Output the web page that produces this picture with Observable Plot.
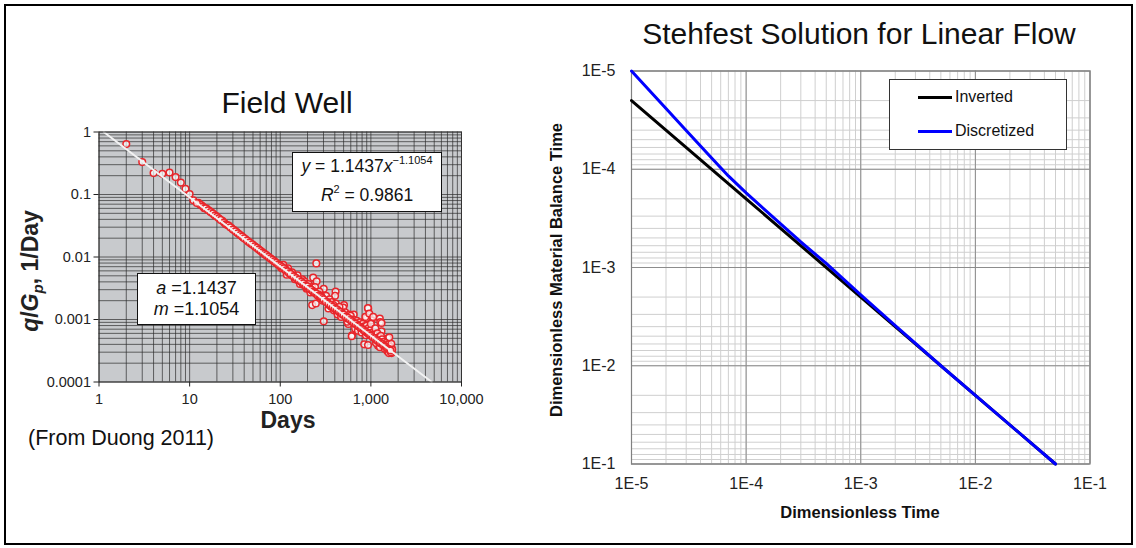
<!DOCTYPE html>
<html>
<head>
<meta charset="utf-8">
<script src="https://cdn.jsdelivr.net/npm/d3@7"></script>
<script src="https://cdn.jsdelivr.net/npm/@observablehq/plot@0.6"></script>
<style>
  body { margin: 0; background: #fff; }
  #wrap { position: relative; width: 1136px; height: 548px; overflow: hidden;
          font-family: "Liberation Sans", Arial, sans-serif; color: #111; }
  .abs { position: absolute; white-space: nowrap; }
  .c { transform: translate(-50%, -50%); }
  svg { position: absolute; top: 0; }
</style>
</head>
<body>
<div id="wrap"></div>
<script>
// ---------------- Left chart: Field Well (Duong 2011) ----------------
const fieldTitle = "Field Well";
const fieldXTicks = [1, 10, 100, 1000, 10000];
const fieldXTickLabels = ["1", "10", "100", "1,000", "10,000"];
const fieldYTicks = [0.0001, 0.001, 0.01, 0.1, 1];
const fieldYTickLabels = ["0.0001", "0.001", "0.01", "0.1", "1"];

const earlyDays = [2, 3, 4, 5, 6, 7, 8, 9, 10, 11, 12];
const earlyRate = [0.64, 0.33, 0.22, 0.215, 0.225, 0.19, 0.155, 0.123, 0.102, 0.081, 0.073];

const bandDays = [13,14,14.5,15,16,17,18,19,20,21,22,24,25,26,27,28,30,32,34,36,38,40,43,46,49,52,55,58,61,64,67,70,74,78,82,86,90,95,100,105,110,115,120,125,130,140,150,160,170,180,190,200,210,220,230,240,250,260,270,280,290,300,320,340,360,380,400,420,440,460,480,500,530,560,590,620,650,680,710,740,770,800,830,860,890,920,950,980,1010,1050,1100,1150,1200,1250,1300,1350,1400,1450,1500,1550,1600,1650];
const bandRate = [0.0690,0.0640,0.0605,0.0600,0.0560,0.0525,0.0495,0.0462,0.0440,0.0415,0.0392,0.0356,0.0335,0.0325,0.0318,0.0300,0.0276,0.0258,0.0240,0.0224,0.0212,0.0200,0.0184,0.0170,0.0160,0.0149,0.0140,0.0132,0.0125,0.0118,0.0113,0.0107,0.0101,0.0095,0.0090,0.0085,0.0081,0.0076,0.0072,0.0069,0.0066,0.0061,0.0059,0.0055,0.0054,0.0049,0.0046,0.0043,0.0040,0.0038,0.0035,0.0034,0.0031,0.0030,0.0028,0.0027,0.0026,0.0024,0.0024,0.0023,0.0022,0.0021,0.0019,0.0018,0.0017,0.0016,0.0015,0.00146,0.00135,0.00131,0.00122,0.00120,0.00110,0.00106,0.00098,0.00094,0.00088,0.00085,0.00080,0.00078,0.00073,0.00071,0.00068,0.00065,0.00063,0.00060,0.00059,0.00056,0.00055,0.00052,0.00050,0.00047,0.00045,0.00043,0.00041,0.00040,0.00038,0.00037,0.00035,0.00034,0.00033,0.00032];

const bandPoints2 = [
  [12.5,0.0735],[13.5,0.0672],[15.5,0.0590],[16.5,0.0548],[17.5,0.0515],[18.5,0.0478],[19.5,0.0455],[23,0.0380],
  [29,0.0290],[31,0.0270],[33,0.0250],[35,0.0233],[37,0.0218],[39,0.0205],[41.5,0.0192],[44.5,0.0176],[47.5,0.0163],
  [50.5,0.0154],[53.5,0.0144],[56.5,0.0136],[59.5,0.0128],[62.5,0.0121],[65.5,0.0115],[68.5,0.0109],[72,0.0104],
  [76,0.0097],[80,0.0092],[84,0.0087],[88,0.0083],[92.5,0.0078],[97.5,0.0074],
  [104,0.0066],[114,0.0064],[124,0.0058],[133,0.0051],[143,0.0048],[153,0.0044],[163,0.0042],[173,0.0039],[183,0.0036],
  [193,0.0034],[203,0.0033],[213,0.0031],[223,0.0029],[235,0.0028],[245,0.0026],[255,0.0025],[265,0.0025],[275,0.0022],
  [285,0.0023],[295,0.0020],[310,0.0020],[330,0.0019],[345,0.0017],[365,0.0016],[385,0.0017],[395,0.0015],[415,0.0014],
  [435,0.0014],[455,0.0013],[475,0.0013],[490,0.0012],[515,0.00115],[545,0.00105],[575,0.00102],[605,0.00096],
  [635,0.00091],[665,0.00087],[695,0.00083],[725,0.00079],[755,0.00075]
];

const scatterPoints = [
  [102,0.0068],[108,0.0075],[112,0.0063],[118,0.0052],[122,0.0066],[128,0.0057],[135,0.0057],[138,0.0051],
  [145,0.0044],[148,0.0047],[155,0.0051],[158,0.0042],[165,0.0037],[168,0.0041],[175,0.0044],[178,0.0036],
  [185,0.0041],[188,0.0037],[195,0.0031],[198,0.0032],[205,0.0037],[215,0.0027],[225,0.0033],
  [250,0.0079],[231,0.0047],[252,0.0041],[302,0.0031],[242,0.0033],[270,0.0028],[408,0.0028],[403,0.0024],
  [225,0.0017],[247,0.0018],[302,0.00094],[505,0.0017],[495,0.00155],[935,0.0015],[927,0.00153],
  [1255,0.00104],[1270,0.00091],[920,0.00096],[1020,0.00097],[620,0.00056],[845,0.0004],[930,0.00039],
  [1200,0.00038],[1694,0.00035],[1694,0.00029],[725,0.00073],[565,0.00085],[1310,0.00065],[1540,0.0005],
  [1597,0.00052],[1313,0.00088],[646,0.0012],[456,0.00117],[860,0.00094],[898,0.00106],[614,0.00054],
  [320,0.0024],[340,0.0015],[350,0.0021],[370,0.0019],[390,0.0014],[410,0.0018],[430,0.0012],[450,0.0016],
  [470,0.0011],[520,0.0013],[550,0.00092],[580,0.0012],[600,0.00115],[640,0.00100],[670,0.00072],[700,0.00095],
  [720,0.00066],[760,0.00090],[790,0.00062],[810,0.00085],[850,0.00078],[870,0.00110],[880,0.00056],[900,0.00080],
  [940,0.00072],[960,0.00125],[990,0.00068],[1000,0.00085],[1030,0.00062],[1060,0.00110],[1080,0.00058],[1120,0.00072],
  [1140,0.00042],[1180,0.00060],[1220,0.00052],[1260,0.00036],[1290,0.00055],[1330,0.00048],[1380,0.00044],[1420,0.00034],
  [1460,0.00042],[1520,0.00031],[1560,0.00040],[1580,0.00029],[1620,0.00037],[1660,0.00030],[1680,0.00041],[1720,0.00033]
];

// power-law fit shown on the chart: y = a x^-m, drawn between its two ends
const fitA = 1.1437, fitM = 1.1054, fitR2 = 0.9861;
const trendDays = [1.129, 4700];
const trendRate = [1.0, 0.0001];

// ---------------- Right chart: Stehfest solution ----------------
const stehTitle = "Stehfest Solution for Linear Flow";
const stehTicks = [1e-5, 1e-4, 1e-3, 1e-2, 1e-1];
const stehTickLabels = ["1E-5", "1E-4", "1E-3", "1E-2", "1E-1"];
const seriesNames = ["Inverted", "Discretized"];
const seriesColors = ["#000000", "#0000ff"];

const invertedT   = [1e-5, 1e-4, 1e-3, 1e-2, 5e-2];
const invertedTmb = [2e-5, 2e-4, 2e-3, 2e-2, 1e-1];
const discretizedT   = [1e-5, 2e-5, 3e-5, 5e-5, 7e-5, 1e-4, 2e-4, 3e-4, 5e-4, 1e-3, 2e-3, 5e-3, 1e-2, 5e-2];
const discretizedTmb = [1.0e-5, 2.41e-5, 4.03e-5, 7.7e-5, 1.17e-4, 1.74e-4, 3.6e-4, 5.5e-4, 9.1e-4, 1.9e-3, 3.9e-3, 1.0e-2, 2.0e-2, 1.0e-1];

// ---------------- build tables ----------------
const fieldPoints = [
  ...scatterPoints.map(([d, q]) => ({days: d, rate: q})),
  ...bandPoints2.map(([d, q]) => ({days: d, rate: q})),
  ...bandDays.map((d, i) => ({days: d, rate: bandRate[i]})),
  ...earlyDays.map((d, i) => ({days: d, rate: earlyRate[i]}))
];
const trend = trendDays.map((d, i) => ({days: d, rate: trendRate[i]}));
const inverted = invertedT.map((t, i) => ({t, tmb: invertedTmb[i], s: seriesNames[0]}));
const discretized = discretizedT.map((t, i) => ({t, tmb: discretizedTmb[i], s: seriesNames[1]}));

const fxLab = new Map(fieldXTicks.map((v, i) => [v, fieldXTickLabels[i]]));
const fyLab = new Map(fieldYTicks.map((v, i) => [v, fieldYTickLabels[i]]));
const sLab = new Map(stehTicks.map((v, i) => [v, stehTickLabels[i]]));

const font = '"Liberation Sans", Arial, sans-serif';
const wrap = document.getElementById("wrap");

// ---------------- left plot ----------------
const gridXLeft = d3.scaleLog().domain([1, 10000]).ticks();
const gridYLeft = d3.scaleLog().domain([0.0001, 1]).ticks();

const left = Plot.plot({
  width: 540, height: 548,
  marginLeft: 98.5, marginRight: 79, marginTop: 131.5, marginBottom: 166.5,
  style: {fontFamily: font, fontSize: "14.5px", color: "#222", background: "none", overflow: "visible"},
  x: {type: "log", domain: [1, 10000]},
  y: {type: "log", domain: [0.0001, 1]},
  marks: [
    Plot.frame({fill: "#c8cacd"}),
    Plot.gridX(gridXLeft, {stroke: "#2e2e2e", strokeOpacity: 0.7, strokeWidth: 1}),
    Plot.gridY(gridYLeft, {stroke: "#2e2e2e", strokeOpacity: 0.7, strokeWidth: 1}),
    Plot.dot(fieldPoints, {x: "days", y: "rate", r: 3.3, stroke: "#e8262b", strokeWidth: 1.5, fill: "#ffffff", fillOpacity: 0.7}),
    Plot.line(trend, {x: "days", y: "rate", stroke: "#f2f2f2", strokeWidth: 2}),
    Plot.frame({stroke: "#333", strokeWidth: 1}),
    Plot.axisX(fieldXTicks, {tickFormat: d => fxLab.get(d), tickSize: 5, tickPadding: 7, label: null, stroke: "#222"}),
    Plot.axisY(fieldYTicks, {tickFormat: d => fyLab.get(d), tickSize: 5, tickPadding: 3, label: null, stroke: "#222"})
  ]
});
left.style.left = "0px";
wrap.appendChild(left);

// ---------------- right plot ----------------
const gridS = d3.scaleLog().domain([1e-5, 1e-1]).ticks();

const right = Plot.plot({
  width: 596, height: 548,
  marginLeft: 91, marginRight: 46.5, marginTop: 70.5, marginBottom: 84.5,
  style: {fontFamily: font, fontSize: "16px", color: "#222", background: "none", overflow: "visible"},
  x: {type: "log", domain: [1e-5, 1e-1]},
  y: {type: "log", domain: [1e-5, 1e-1], reverse: true},
  marks: [
    Plot.gridX(gridS, {stroke: "#cfcfcf", strokeOpacity: 1, strokeWidth: 1}),
    Plot.gridY(gridS, {stroke: "#cfcfcf", strokeOpacity: 1, strokeWidth: 1}),
    Plot.gridX(stehTicks, {stroke: "#8c8c8c", strokeOpacity: 1, strokeWidth: 1}),
    Plot.gridY(stehTicks, {stroke: "#8c8c8c", strokeOpacity: 1, strokeWidth: 1}),
    Plot.frame({stroke: "#808080", strokeWidth: 1.2}),
    Plot.line(inverted, {x: "t", y: "tmb", stroke: seriesColors[0], strokeWidth: 3}),
    Plot.line(discretized, {x: "t", y: "tmb", stroke: seriesColors[1], strokeWidth: 3}),
    Plot.axisX(stehTicks, {tickFormat: d => sLab.get(d), tickSize: 0, tickPadding: 14, label: null}),
    Plot.axisY(stehTicks, {tickFormat: d => sLab.get(d), tickSize: 0, tickPadding: 16, label: null})
  ]
});
right.style.left = "540px";
wrap.appendChild(right);

// ---------------- text & annotations ----------------
function put(html, css, cls = "abs") {
  const el = document.createElement("div");
  el.className = cls;
  el.innerHTML = html;
  Object.assign(el.style, css);
  wrap.appendChild(el);
  return el;
}
// outer border
put("", {left: "4px", top: "4px", width: "1129px", height: "541px", border: "2px solid #000", boxSizing: "border-box"});

// left chart texts
put(fieldTitle, {left: "287px", top: "103px", fontSize: "30px", color: "#111"}, "abs c");
put("Days", {left: "288px", top: "420px", fontSize: "23px", fontWeight: "bold", color: "#222"}, "abs c");
put("(From Duong 2011)", {left: "28px", top: "427px", fontSize: "21.5px", color: "#111", lineHeight: "22px"});
put('<i>q</i>/<i>G<sub style="font-size:15px;vertical-align:-5px">p</sub></i>, 1/Day',
    {left: "31px", top: "271px", fontSize: "23px", fontWeight: "bold", color: "#222",
     transform: "translate(-50%, -50%) rotate(-90deg)"});

// equation box
put('<div style="line-height:27px"><i>y</i> = ' + fitA + '<i>x</i><span style="font-size:11px;position:relative;top:-8px;">\u2212' + fitM + '</span></div>' +
    '<div style="line-height:27px"><i>R</i><span style="font-size:11px;position:relative;top:-8px;">2</span> = ' + fitR2 + '</div>',
    {left: "292px", top: "152px", width: "150px", height: "60px", border: "1.5px solid #111", background: "#fff",
     boxSizing: "border-box", fontSize: "17.5px", display: "flex", flexDirection: "column", justifyContent: "center",
     alignItems: "center", color: "#111"});
// parameter box
put('<div style="line-height:21px"><i>a</i> =' + fitA + '</div><div style="line-height:21px"><i>m</i> =' + fitM + '</div>',
    {left: "137px", top: "273px", width: "119px", height: "52px", border: "1.5px solid #111", background: "#fff",
     boxSizing: "border-box", fontSize: "18px", display: "flex", flexDirection: "column", justifyContent: "center",
     alignItems: "center", color: "#111"});

// right chart texts
put(stehTitle, {left: "859px", top: "34px", fontSize: "30px", color: "#111"}, "abs c");
put("Dimensionless Time", {left: "860px", top: "512px", fontSize: "16.5px", fontWeight: "bold", color: "#111"}, "abs c");
put("Dimensionless Material Balance Time", {left: "556px", top: "270px", fontSize: "16.5px", fontWeight: "bold", color: "#111",
    transform: "translate(-50%, -50%) rotate(-90deg)"});

// legend
put("", {left: "889px", top: "79px", width: "178px", height: "71px", border: "1px solid #333", background: "#fff", boxSizing: "border-box"});
[97, 131].forEach((cy, i) => {
  put("", {left: "918px", top: (cy - 1.5) + "px", width: "34px", height: "3px", background: seriesColors[i]});
  put(seriesNames[i], {left: "955px", top: (cy - 10) + "px", fontSize: "16px", lineHeight: "20px", color: "#111"});
});
</script>
</body>
</html>
